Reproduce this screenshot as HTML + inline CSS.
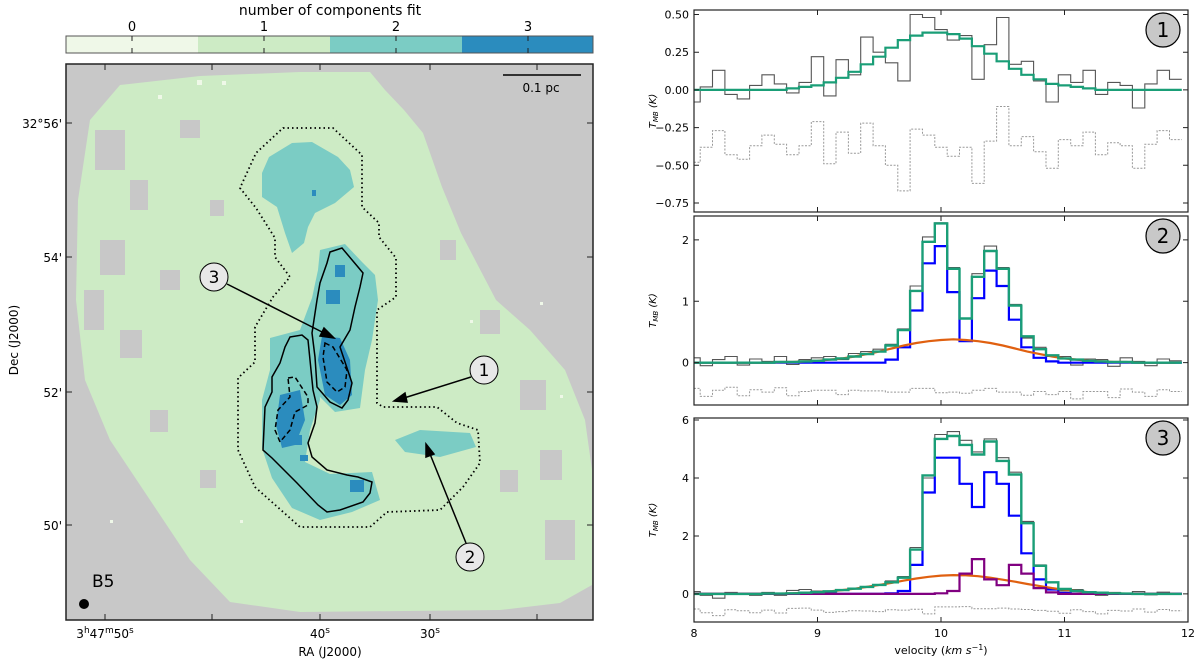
<!DOCTYPE html>
<html><head><meta charset="utf-8"><style>
body{margin:0;background:#fff;}
svg{display:block;font-family:"DejaVu Sans","Liberation Sans",sans-serif;}
</style></head><body>
<svg id="fig" width="1200" height="659" viewBox="0 0 1200 659" xmlns="http://www.w3.org/2000/svg">
<g id="left">
  <text x="330" y="15" font-size="14" text-anchor="middle">number of components fit</text>
  <rect x="66" y="36" width="132" height="17" fill="#eff8e8"/>
  <rect x="198" y="36" width="132" height="17" fill="#cdebc5"/>
  <rect x="330" y="36" width="132" height="17" fill="#7bccc4"/>
  <rect x="462" y="36" width="131" height="17" fill="#2b8cbe"/>
  <rect x="66" y="36" width="527" height="17" fill="none" stroke="#555" stroke-width="1"/>
  <g font-size="13" text-anchor="middle">
    <text x="132" y="31">0</text><text x="264" y="31">1</text><text x="396" y="31">2</text><text x="528" y="31">3</text>
    <path d="M132 36v5M264 36v5M396 36v5M528 36v5M132 53v-5M264 53v-5M396 53v-5M528 53v-5" stroke="#222"/>
  </g>
  <clipPath id="mapclip"><rect x="66" y="64" width="527" height="556"/></clipPath>
  <g clip-path="url(#mapclip)">
  <rect x="66" y="64" width="527" height="556" fill="#c8c8c8"/>
  <polygon fill="#cdebc5" points="90,120 120,85 200,76 300,72 370,72 385,90 404,110 423,133 442,187 461,233 496,300 530,330 565,370 585,420 592,470 592,585 560,603 500,610 300,612 230,602 190,560 150,500 110,440 85,380 76,300 78,200"/>
  <g fill="#c8c8c8">
    <rect x="95" y="130" width="30" height="40"/><rect x="130" y="180" width="18" height="30"/><rect x="100" y="240" width="25" height="35"/>
    <rect x="160" y="270" width="20" height="20"/><rect x="120" y="330" width="22" height="28"/><rect x="180" y="120" width="20" height="18"/>
    <rect x="210" y="200" width="14" height="16"/><rect x="440" y="240" width="16" height="20"/><rect x="480" y="310" width="20" height="24"/>
    <rect x="520" y="380" width="26" height="30"/><rect x="540" y="450" width="22" height="30"/><rect x="500" y="470" width="18" height="22"/>
    <rect x="545" y="520" width="30" height="40"/><rect x="150" y="410" width="18" height="22"/><rect x="200" y="470" width="16" height="18"/>
    <rect x="84" y="290" width="20" height="40"/>
  </g>
  <g fill="#eff8e8">
    <rect x="197" y="80" width="5" height="5"/><rect x="222" y="81" width="4" height="4"/><rect x="158" y="95" width="4" height="4"/>
    <rect x="470" y="320" width="3" height="3"/><rect x="540" y="302" width="3" height="3"/><rect x="560" y="395" width="3" height="3"/>
    <rect x="110" y="520" width="3" height="3"/><rect x="240" y="520" width="3" height="3"/>
  </g>
  <g fill="#7bccc4">
    <polygon points="269,157 292,143 312,142 338,157 350,170 354,187 335,203 315,213 308,227 304,243 292,253 285,233 277,207 262,197 262,173"/>
    <polygon points="320,250 345,244 362,262 375,275 378,300 372,340 365,370 360,408 335,412 318,395 305,360 300,330 312,298 318,270"/>
    <polygon points="270,338 300,330 318,355 320,400 310,430 305,462 330,474 372,472 380,500 352,512 320,520 292,508 272,478 262,448 262,400 270,370"/>
    <polygon points="395,440 420,430 470,433 476,447 440,457 405,452"/>
  </g>
  <g fill="#2b8cbe">
    <polygon points="322,336 340,338 350,360 352,395 340,405 325,395 318,360"/>
    <polygon points="280,395 300,390 305,420 295,445 282,448 276,425"/>
    <rect x="335" y="265" width="10" height="12"/><rect x="326" y="290" width="14" height="14"/><rect x="312" y="190" width="4" height="6"/>
    <rect x="290" y="435" width="12" height="10"/><rect x="350" y="480" width="14" height="12"/><rect x="300" y="455" width="8" height="6"/>
  </g>
  </g>
  <rect x="66" y="64" width="527" height="556" fill="none" stroke="#222" stroke-width="1.5"/>
  <g stroke="#222" stroke-width="1">
    <path d="M66 123h6M66 257h6M66 392h6M66 525h6M593 123h-6M593 257h-6M593 392h-6M593 525h-6M105 620v-6M320 620v-6M430 620v-6M105 64v6M320 64v6M430 64v6M212 620v-6M212 64v6M537 620v-6M537 64v6"/>
  </g>
  <g font-size="12">
    <text x="62" y="128" text-anchor="end">32°56'</text><text x="62" y="262" text-anchor="end">54'</text>
    <text x="62" y="397" text-anchor="end">52'</text><text x="62" y="530" text-anchor="end">50'</text>
    <text x="105" y="638" text-anchor="middle">3<tspan font-size="9" dy="-5">h</tspan><tspan dy="5">47</tspan><tspan font-size="9" dy="-5">m</tspan><tspan dy="5">50</tspan><tspan font-size="9" dy="-5">s</tspan></text>
    <text x="320" y="638" text-anchor="middle">40<tspan font-size="9" dy="-5">s</tspan></text>
    <text x="430" y="638" text-anchor="middle">30<tspan font-size="9" dy="-5">s</tspan></text>
  </g>
  <text x="330" y="656" font-size="12" text-anchor="middle">RA (J2000)</text>
  <text transform="translate(18,340) rotate(-90)" font-size="12" text-anchor="middle">Dec (J2000)</text>
  <path d="M503 75h78" stroke="#000" stroke-width="1.5"/>
  <text x="541" y="92" font-size="12" text-anchor="middle">0.1 pc</text>
  <circle cx="84" cy="604" r="5" fill="#000"/>
  <text x="92" y="587" font-size="17">B5</text>
  <g fill="none" stroke="#000">
    <polygon stroke-width="1.8" stroke-dasharray="1.5,3" points="283,128 333,128 362,155 362,207 379,223 379,237 396,258 396,297 377,310 377,403 383,407 437,407 457,423 478,430 480,463 463,487 440,510 387,512 370,527 300,527 255,487 238,450 238,378 255,362 255,327 273,297 290,277 275,257 275,238 256,208 240,188 256,153"/>
    <polygon stroke-width="1.5" points="330,252 342,248 358,267 363,273 360,287 355,307 350,330 340,347 352,383 348,400 342,408 330,402 317,387 315,357 312,333 317,300 320,283 327,263"/>
    <polygon stroke-width="1.5" points="290,337 302,335 308,340 313,390 317,407 315,423 308,443 312,457 327,470 347,475 358,477 372,482 370,493 363,502 340,510 327,512 318,505 297,483 272,458 263,450 265,407 272,392 272,377 280,363 285,347"/>
    <polygon stroke-width="1.5" stroke-dasharray="5,3" points="325,343 333,347 347,370 345,387 337,392 327,382 323,357"/>
    <polygon stroke-width="1.5" stroke-dasharray="5,3" points="288,378 295,377 308,397 308,405 295,412 290,430 280,442 275,430 278,410 290,397"/>
  </g>
  <g stroke="#000" stroke-width="1.5" fill="#000">
    <path d="M227 284L326 334"/><polygon points="334,338 320,336 324,328"/>
    <path d="M471 377L404 398"/><polygon points="394,401 405,393 407,402"/>
    <path d="M466 543L430 454"/><polygon points="426,444 434,454 426,457"/>
  </g>
  <g font-size="17" text-anchor="middle">
    <circle cx="214" cy="277" r="14" fill="#e8e8e8" stroke="#000"/><text x="214" y="283">3</text>
    <circle cx="484" cy="370" r="14" fill="#e8e8e8" stroke="#000"/><text x="484" y="376">1</text>
    <circle cx="470" cy="557" r="14" fill="#e8e8e8" stroke="#000"/><text x="470" y="563">2</text>
  </g>
</g>
<g id="right"></g>
</svg>
<script>
// shared velocity channels (km/s), 0.1 km/s bins
const velocity = [8.0,8.1,8.2,8.3,8.4,8.5,8.6,8.7,8.8,8.9,9.0,9.1,9.2,9.3,9.4,9.5,9.6,9.7,9.8,9.9,10.0,10.1,10.2,10.3,10.4,10.5,10.6,10.7,10.8,10.9,11.0,11.1,11.2,11.3,11.4,11.5,11.6,11.7,11.8,11.9];
// Panel 1
const p1Data = [-0.08,0.02,0.13,-0.03,-0.06,0.03,0.10,0.04,-0.02,0.05,0.22,-0.04,0.20,0.10,0.35,0.25,0.18,0.06,0.50,0.48,0.40,0.33,0.36,0.07,0.30,0.48,0.17,0.19,0.06,-0.08,0.10,0.05,0.13,-0.03,0.05,0.03,-0.12,0.04,0.13,0.07];
const p1Fit = [0,0,0,0,0,0,0,0,0.01,0.02,0.03,0.05,0.08,0.12,0.17,0.22,0.28,0.33,0.36,0.38,0.38,0.37,0.34,0.29,0.24,0.19,0.14,0.10,0.07,0.04,0.03,0.02,0.01,0,0,0,0,0,0,0];
// Panel 2
const p2Data = [0.08,-0.05,0.05,0.10,-0.04,0.06,0.02,0.10,-0.03,0.05,0.08,0.10,0.05,0.15,0.18,0.22,0.30,0.55,1.25,2.05,2.28,1.55,0.72,1.45,1.90,1.55,0.95,0.40,0.25,0.10,0.10,-0.04,0.06,0.05,-0.06,0.08,0.02,-0.05,0.06,0.03];
const p2Blue = [0,0,0,0,0,0,0,0,0,0,0,0,0,0,0,0,0.05,0.25,0.85,1.62,1.90,1.15,0.35,1.05,1.50,1.25,0.70,0.25,0.08,0.02,0,0,0,0,0,0,0,0,0,0];
const p2Orange = [0,0,0,0,0,0,0,0.01,0.01,0.02,0.03,0.05,0.07,0.10,0.14,0.18,0.23,0.28,0.32,0.35,0.37,0.38,0.37,0.35,0.32,0.28,0.23,0.18,0.14,0.10,0.07,0.05,0.03,0.02,0.01,0.01,0,0,0,0];
// Panel 3
const p3Data = [0.08,-0.05,-0.15,0.05,0.02,-0.05,0.05,-0.05,0.12,0.15,0.10,0.05,0.12,0.20,0.25,0.30,0.45,0.60,1.60,4.00,5.50,5.60,5.30,4.90,5.35,4.70,4.20,2.50,1.00,0.40,0.10,0.15,0.05,-0.05,0.05,0.02,0.08,-0.03,0.06,0.02];
const p3Blue = [0,0,0,0,0,0,0,0,0,0,0,0,0,0,0,0,0.02,0.10,1.00,3.50,4.70,4.70,3.80,3.00,4.20,3.80,2.70,1.40,0.50,0.15,0.03,0,0,0,0,0,0,0,0,0];
const p3Orange = [0,0,0,0,0,0,0.01,0.01,0.02,0.04,0.06,0.09,0.13,0.18,0.24,0.31,0.38,0.46,0.53,0.59,0.63,0.65,0.64,0.61,0.56,0.49,0.42,0.34,0.27,0.20,0.14,0.10,0.06,0.04,0.02,0.01,0,0,0,0];
const p3Purple = [0,0,0,0,0,0,0,0,0,0,0,0,0,0,0,0,0,0,0,0,0.02,0.10,0.70,1.20,0.50,0.30,1.00,0.70,0.20,0.05,0,0,0,0,0,0,0,0,0,0];
const xTicks = [8,9,10,11,12];
const p1Ticks = [0.5,0.25,0,-0.25,-0.5,-0.75];
const p1TickLabels = ["0.50","0.25","0.00","\u22120.25","\u22120.50","\u22120.75"];
const p2Ticks = [0,1,2];
const p3Ticks = [0,2,4,6];
const residOffsets = [-0.4,-0.5,-0.6];

const NS = "http://www.w3.org/2000/svg";
const root = document.getElementById('right');
const X0 = 694, X1 = 1188, V0 = 8, V1 = 12;
function xs(v){ return X0 + (v - V0) / (V1 - V0) * (X1 - X0); }
function mk(tag, attrs, parent){ const e = document.createElementNS(NS, tag); for (const k in attrs) e.setAttribute(k, attrs[k]); parent.appendChild(e); return e; }
function stepPath(vals, ys){
  let d = '';
  for (let i = 0; i < velocity.length; i++){
    const a = xs(Math.max(V0, velocity[i] - 0.05)), b = xs(Math.min(V1, velocity[i] + 0.05)), y = ys(vals[i]);
    d += (i === 0 ? 'M' : 'L') + a.toFixed(1) + ' ' + y.toFixed(1) + 'L' + b.toFixed(1) + ' ' + y.toFixed(1);
  }
  return d;
}
function smoothPath(vals, ys){
  return velocity.map((v,i)=>(i?'L':'M')+xs(v).toFixed(1)+' '+ys(vals[i]).toFixed(1)).join('');
}
function panel(idx, top, bottom, vmax, vmin, ticks, tlabels, comps, data, label){
  const g = mk('g', {}, root);
  
  
  const cp = mk('clipPath', {id:'pc'+idx}, g);
  mk('rect', {x:X0, y:top, width:X1-X0, height:bottom-top}, cp);
  const inner = mk('g', {'clip-path':'url(#pc'+idx+')'}, g);
  
  
  const ys = t => top + (vmax - t) / (vmax - vmin) * (bottom - top);
  let total = velocity.map((v,i)=>comps.reduce((s,c)=>s+c.vals[i],0));
  const resid = data.map((d,i)=>d - total[i] + residOffsets[idx]);
  const r = mk('path', {d: stepPath(resid, ys), fill:'none', stroke:'#999', 'stroke-width':1, 'stroke-dasharray':'2,1.5'}, inner);
  
  
  const dp = mk('path', {d: stepPath(data, ys), fill:'none', stroke:'#555', 'stroke-width':1.1}, inner);
  
  
  comps.forEach(c=>{
    const p = mk('path', {d: c.smooth ? smoothPath(c.vals, ys) : stepPath(c.vals, ys), fill:'none', stroke:c.color, 'stroke-width':2.2}, inner);
    
    
  });
  if (comps.length > 1){
    const gp = mk('path', {d: stepPath(total, ys), fill:'none', stroke:'#1a9e77', 'stroke-width':2.4}, inner);
    
    
  }
  const fr = mk('rect', {x:X0, y:top, width:X1-X0, height:bottom-top, fill:'none', stroke:'#222', 'stroke-width':1.2}, g);
  
  
  ticks.forEach((t,i)=>{
    const y = ys(t);
    mk('path', {d:`M${X0} ${y}h5M${X1} ${y}h-5`, stroke:'#222'}, g);
    const tx = mk('text', {x:X0-5, y:y+4, 'font-size':11, 'text-anchor':'end'}, g);
    tx.textContent = tlabels ? tlabels[i] : String(t);
    
    
  });
  xTicks.forEach(v=>{ mk('path', {d:`M${xs(v)} ${bottom}v-5M${xs(v)} ${top}v5`, stroke:'#222'}, g); });
  const yl = mk('text', {transform:`translate(${X0-38},${(top+bottom)/2}) rotate(-90)`, 'font-size':10, 'text-anchor':'middle', 'font-style':'italic'}, g);
  yl.innerHTML = 'T<tspan font-size="7" dy="2">MB</tspan><tspan dy="-2"> (K)</tspan>';
  
  
  const c = mk('circle', {cx:1163, cy:top+20, r:17, fill:'#c8c8c8', stroke:'#000', 'stroke-width':1.2}, g);
  
  
  const ct = mk('text', {x:1163, y:top+27, 'font-size':20, 'text-anchor':'middle'}, g);
  ct.textContent = label;
  
  
}
panel(0, 10, 212, 0.53, -0.81, p1Ticks, p1TickLabels, [{vals:p1Fit, color:'#1a9e77', name:'gaussian-fit', smooth:false}], p1Data, '1');
panel(1, 216, 405, 2.39, -0.69, p2Ticks, null, [{vals:p2Blue, color:'#0000ff', name:'narrow-component'},{vals:p2Orange, color:'#e06010', name:'broad-component', smooth:true}], p2Data, '2');
panel(2, 418, 622, 6.07, -0.97, p3Ticks, null, [{vals:p3Blue, color:'#0000ff', name:'narrow-component'},{vals:p3Orange, color:'#e06010', name:'broad-component', smooth:true},{vals:p3Purple, color:'#800080', name:'third-component'}], p3Data, '3');
xTicks.forEach(v=>{
  const t = document.createElementNS(NS, 'text');
  t.setAttribute('x', xs(v)); t.setAttribute('y', 637); t.setAttribute('font-size', 11); t.setAttribute('text-anchor', 'middle');
  t.textContent = String(v);
  
  
  root.appendChild(t);
});
const xt = document.createElementNS(NS, 'text');
xt.setAttribute('x', 941); xt.setAttribute('y', 654); xt.setAttribute('font-size', 11); xt.setAttribute('text-anchor', 'middle');
xt.innerHTML = 'velocity (<tspan font-style="italic">km s</tspan><tspan font-size="8" dy="-4">\u22121</tspan><tspan dy="4">)</tspan>';


root.appendChild(xt);
</script>
</body></html>
